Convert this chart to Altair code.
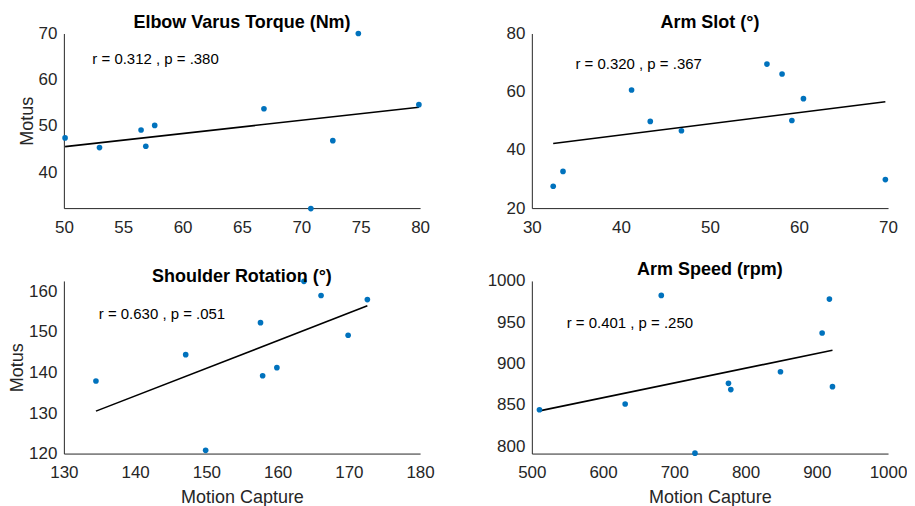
import altair as alt
import pandas as pd

# ---------------- data ----------------
titles = ["Elbow Varus Torque (Nm)", "Arm Slot (°)", "Shoulder Rotation (°)", "Arm Speed (rpm)"]
notes = ["r = 0.312 , p = .380", "r = 0.320 , p = .367", "r = 0.630 , p = .051", "r = 0.401 , p = .250"]

evt_mocap = [50.1, 53.0, 56.5, 56.9, 57.65, 66.85, 72.65, 70.8, 74.8, 79.9]
evt_motus = [47.4, 45.3, 49.1, 45.6, 50.1, 53.7, 46.8, 32.1, 70.0, 54.6]

slot_mocap = [32.4, 33.5, 41.2, 43.3, 46.8, 56.4, 58.1, 59.2, 60.5, 69.7]
slot_motus = [27.5, 32.6, 60.6, 49.8, 46.6, 69.5, 66.1, 50.1, 57.6, 29.8]

sr_mocap = [134.5, 147.1, 149.9, 157.6, 157.9, 159.9, 163.7, 166.1, 169.9, 172.6]
sr_motus = [137.9, 144.4, 120.8, 152.3, 139.2, 141.2, 162.5, 159.0, 149.2, 158.0]

as_mocap = [510.7, 631.0, 681.7, 729.0, 776.0, 779.3, 849.0, 907.5, 917.7, 922.0]
as_motus = [844.0, 851.0, 982.5, 791.5, 876.0, 868.5, 890.0, 937.0, 978.0, 872.0]

x_domains = [[50, 80], [30, 70], [130, 180], [500, 1000]]
y_domains = [[32.2, 70], [20, 80], [120, 162.6], [791, 1000]]
x_ticks = [[50, 55, 60, 65, 70, 75, 80], [30, 40, 50, 60, 70],
           [130, 140, 150, 160, 170, 180], [500, 600, 700, 800, 900, 1000]]
y_ticks = [[40, 50, 60, 70], [20, 40, 60, 80], [120, 130, 140, 150, 160], [800, 850, 900, 950, 1000]]
note_x = [52.4, 34.9, 134.9, 548.9]
note_y = [64.4, 69.6, 154.5, 948.5]

FONT = "Liberation Sans"
GREY = "#262626"


def panel(i, xs, ys, height, show_xtitle, show_ytitle):
    df = pd.DataFrame({"x": xs, "y": ys})
    xscale = alt.Scale(domain=x_domains[i], nice=False, zero=False)
    yscale = alt.Scale(domain=y_domains[i], nice=False, zero=False)
    xkw = dict(values=x_ticks[i], labelPadding=11, format="d", titlePadding=8, labelFlush=False)
    ykw = dict(values=y_ticks[i], labelPadding=7, format="d", titlePadding=2, labelFlush=False)
    xkw["title"] = "Motion Capture" if show_xtitle else ""
    ykw["title"] = "Motus" if show_ytitle else ""
    X = alt.X("x:Q", scale=xscale, axis=alt.Axis(**xkw))
    Y = alt.Y("y:Q", scale=yscale, axis=alt.Axis(**ykw))
    base = alt.Chart(df)
    pts = base.mark_circle(size=32, color="#0072BD", opacity=1).encode(x=X, y=Y)
    line = base.transform_regression("x", "y").mark_line(color="black", strokeWidth=1.6).encode(
        x=alt.X("x:Q", scale=xscale), y=alt.Y("y:Q", scale=yscale))
    ndf = pd.DataFrame({"x": [note_x[i]], "y": [note_y[i]], "t": [notes[i]]})
    txt = alt.Chart(ndf).mark_text(align="left", baseline="middle", fontSize=15, font=FONT, color="black").encode(
        x=alt.X("x:Q", scale=xscale), y=alt.Y("y:Q", scale=yscale), text="t:N")
    return alt.layer(line, pts, txt).properties(
        width=357, height=height,
        title=alt.TitleParams(titles[i], fontSize=18, fontWeight="bold", font=FONT, color="black", offset=-7))


p1 = panel(0, evt_mocap, evt_motus, 175, False, True)
p2 = panel(1, slot_mocap, slot_motus, 175, False, False)
p3 = panel(2, sr_mocap, sr_motus, 173, True, True)
p4 = panel(3, as_mocap, as_motus, 173, True, False)

chart = alt.concat(p1, p2, p3, p4, columns=2, spacing={"row": 73, "column": 112}, bounds="flush").properties(
    padding={"left": 0, "top": 5, "right": 0, "bottom": 0},
    background="white"
).configure_view(strokeWidth=0).configure_axis(
    grid=False, ticks=False, domainColor=GREY, domainWidth=1,
    labelColor=GREY, labelFont=FONT, labelFontSize=17,
    titleColor=GREY, titleFont=FONT, titleFontSize=18, titleFontWeight="normal"
)

chart.save("out.html", embed_options={"renderer": "svg", "actions": False})
